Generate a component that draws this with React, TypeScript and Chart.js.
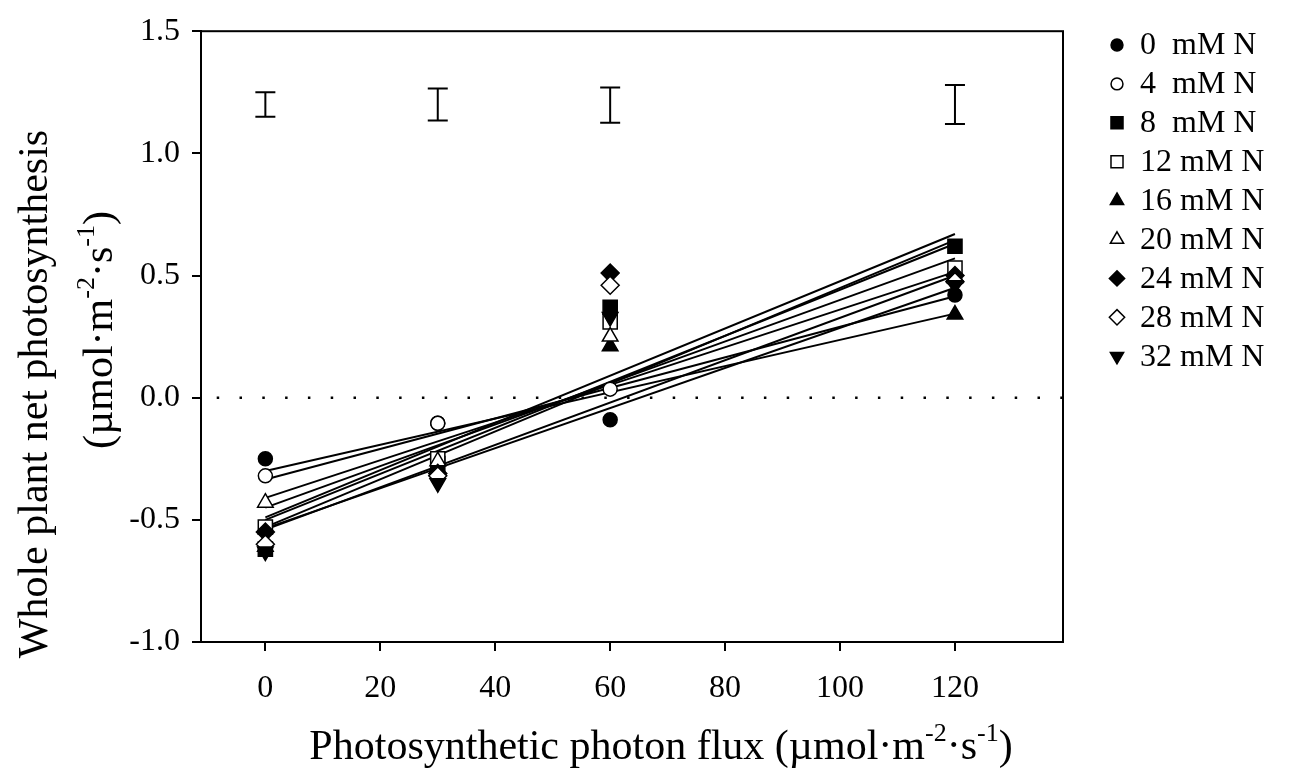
import React, { useEffect, useRef } from "react";
import { Chart, registerables } from "chart.js";
Chart.register(...registerables);

// ---------- data ----------
const fluxLevels = [0, 30, 60, 120];
const seriesLabels = ["0  mM N", "4  mM N", "8  mM N", "12 mM N", "16 mM N", "20 mM N", "24 mM N", "28 mM N", "32 mM N"];
const n0 = [-0.25, -0.105, -0.09, 0.42];
const n4 = [-0.32, -0.105, 0.035, 0.48];
const n8 = [-0.62, -0.27, 0.37, 0.62];
const n12 = [-0.53, -0.25, 0.31, 0.53];
const n16 = [-0.61, -0.29, 0.21, 0.34];
const n20 = [-0.43, -0.26, 0.25, 0.49];
const n24 = [-0.55, -0.31, 0.51, 0.5];
const n28 = [-0.6, -0.32, 0.46, 0.475];
const n32 = [-0.63, -0.35, 0.33, 0.46];
const seriesValues = [n0, n4, n8, n12, n16, n20, n24, n28, n32];

// fitted regression lines: value at flux 0 and at flux 120
const fitAt0 = [-0.3, -0.335, -0.41, -0.45, -0.49, -0.5, -0.53, -0.535, -0.54];
const fitAt120 = [0.344, 0.415, 0.515, 0.57, 0.67, 0.63, 0.645, 0.45, 0.5];
const fitX = [0, 120];

// error bars drawn above the data
const errX = [0, 30, 60, 120];
const errLow = [1.15, 1.135, 1.125, 1.12];
const errHigh = [1.25, 1.265, 1.27, 1.28];

const xTicks = [0, 20, 40, 60, 80, 100, 120];
const xMin = -11.2;
const xMax = 138.8;
const yMin = -1.0;
const yMax = 1.5;

// ---------- marker styles ----------
const markerStyle = ["circle", "circle", "rect", "rect", "triangle", "triangle", "rectRot", "rectRot", "triangle"];
const markerFilled = [true, false, true, false, true, false, true, false, true];
const markerRotation = [0, 0, 0, 0, 0, 0, 0, 0, 180];
const markerRadius: Record<string, number> = { circle: 7, rect: 10, triangle: 9, rectRot: 9 };

const FONT = "'Liberation Serif', 'Times New Roman', serif";

type Part = { t: string; sup?: boolean };

function drawRich(ctx: CanvasRenderingContext2D, parts: Part[], cx: number, cy: number, size: number) {
  const supSize = Math.round(size * 0.62);
  let total = 0;
  for (const p of parts) {
    ctx.font = `${p.sup ? supSize : size}px ${FONT}`;
    total += ctx.measureText(p.t).width;
  }
  let x = cx - total / 2;
  ctx.textBaseline = "alphabetic";
  ctx.textAlign = "left";
  const base = cy + size * 0.33;
  for (const p of parts) {
    ctx.font = `${p.sup ? supSize : size}px ${FONT}`;
    ctx.fillText(p.t, x, p.sup ? base - size * 0.42 : base);
    x += ctx.measureText(p.t).width;
  }
}

const unitParts: Part[] = [
  { t: "(\u00b5mol\u00b7m" },
  { t: "-2", sup: true },
  { t: "\u00b7s" },
  { t: "-1", sup: true },
  { t: ")" },
];

function drawMarker(ctx: CanvasRenderingContext2D, style: string, radius: number, rotation: number, x: number, y: number) {
  const rad = (rotation * Math.PI) / 180;
  ctx.beginPath();
  if (style === "circle") {
    ctx.arc(x, y, radius, 0, Math.PI * 2);
  } else if (style === "rect") {
    const s = Math.SQRT1_2 * radius;
    ctx.rect(x - s, y - s, 2 * s, 2 * s);
  } else if (style === "rectRot") {
    ctx.moveTo(x, y - radius);
    ctx.lineTo(x + radius, y);
    ctx.lineTo(x, y + radius);
    ctx.lineTo(x - radius, y);
  } else if (style === "triangle") {
    let a = rad;
    ctx.moveTo(x + Math.sin(a) * radius, y - Math.cos(a) * radius);
    a += (2 * Math.PI) / 3;
    ctx.lineTo(x + Math.sin(a) * radius, y - Math.cos(a) * radius);
    a += (2 * Math.PI) / 3;
    ctx.lineTo(x + Math.sin(a) * radius, y - Math.cos(a) * radius);
  }
  ctx.closePath();
  ctx.fill();
  ctx.stroke();
}

const decorPlugin = {
  id: "decor",
  afterDatasetsDraw(chart: any) {
    const { ctx, chartArea, scales } = chart;
    const xs = scales.x;
    const ys = scales.y;
    ctx.save();
    ctx.strokeStyle = "#000";
    ctx.lineWidth = 2;
    for (let i = 0; i < errX.length; i++) {
      const px = xs.getPixelForValue(errX[i]);
      const top = ys.getPixelForValue(errHigh[i]);
      const bot = ys.getPixelForValue(errLow[i]);
      ctx.beginPath();
      ctx.moveTo(px, top);
      ctx.lineTo(px, bot);
      ctx.moveTo(px - 10, top);
      ctx.lineTo(px + 10, top);
      ctx.moveTo(px - 10, bot);
      ctx.lineTo(px + 10, bot);
      ctx.stroke();
    }
    ctx.lineWidth = 2;
    ctx.strokeRect(chartArea.left, chartArea.top, chartArea.right - chartArea.left, chartArea.bottom - chartArea.top);
    ctx.restore();
  },
  afterDraw(chart: any) {
    const { ctx } = chart;
    ctx.save();
    ctx.fillStyle = "#000";
    // x title
    drawRich(ctx, [{ t: "Photosynthetic photon flux " }, ...unitParts], 661, 745, 42);
    // y title (two lines)
    ctx.save();
    ctx.translate(33, 394);
    ctx.rotate(-Math.PI / 2);
    drawRich(ctx, [{ t: "Whole plant net photosynthesis" }], 0, 0, 42);
    ctx.restore();
    ctx.save();
    ctx.translate(98, 330);
    ctx.rotate(-Math.PI / 2);
    drawRich(ctx, unitParts, 0, 0, 42);
    ctx.restore();

    // legend
    const lx = 1117;
    const tx = 1140;
    const ly0 = 45;
    const step = 38.9;
    for (let i = 0; i < seriesLabels.length; i++) {
      const y = ly0 + i * step;
      ctx.save();
      ctx.strokeStyle = "#000";
      ctx.fillStyle = markerFilled[i] ? "#000" : "#fff";
      ctx.lineWidth = 1.5;
      const st = markerStyle[i];
      drawMarker(ctx, st, markerRadius[st] * 0.85, markerRotation[i], lx, y);
      ctx.restore();
      ctx.fillStyle = "#000";
      ctx.font = `32px ${FONT}`;
      ctx.textAlign = "left";
      ctx.textBaseline = "middle";
      ctx.fillText(seriesLabels[i], tx, y + 1);
    }
    ctx.restore();
  },
};

export default function App() {
  const ref = useRef<HTMLCanvasElement>(null);
  useEffect(() => {
    document.body.style.margin = "0";
    const canvas = ref.current!;
    const datasets: any[] = [];
    seriesValues.forEach((vals, i) => {
      const st = markerStyle[i];
      datasets.push({
        type: "scatter",
        label: seriesLabels[i],
        data: fluxLevels.map((x, k) => ({ x, y: vals[k] })),
        pointStyle: st,
        pointRotation: markerRotation[i],
        pointRadius: markerRadius[st],
        pointBackgroundColor: markerFilled[i] ? "#000" : "#fff",
        pointBorderColor: "#000",
        pointBorderWidth: 1.5,
        showLine: false,
        order: 1 - i * 0.01,
      });
    });
    fitAt0.forEach((v0, i) => {
      datasets.push({
        type: "line",
        label: "fit " + seriesLabels[i],
        data: [
          { x: fitX[0], y: v0 },
          { x: fitX[1], y: fitAt120[i] },
        ],
        borderColor: "#000",
        borderWidth: 2,
        pointRadius: 0,
        fill: false,
        order: 2,
      });
    });
    datasets.push({
      type: "line",
      label: "zero",
      data: [
        { x: xMin, y: 0 },
        { x: xMax, y: 0 },
      ],
      borderColor: "#000",
      borderWidth: 2.5,
      borderDash: [2.5, 20.3],
      borderDashOffset: 7.1,
      pointRadius: 0,
      fill: false,
      order: 3,
    });

    const chart = new Chart(canvas, {
      type: "scatter",
      data: { datasets },
      options: {
        responsive: false,
        animation: false,
        devicePixelRatio: 1,
        layout: { padding: { left: 0, right: 232, top: 23, bottom: 0 } },
        plugins: { legend: { display: false }, tooltip: { enabled: false } },
        scales: {
          x: {
            type: "linear",
            min: xMin,
            max: xMax,
            afterBuildTicks: (axis: any) => {
              axis.ticks = xTicks.map((v) => ({ value: v }));
            },
            afterFit: (scale: any) => {
              scale.height = 133;
            },
            grid: { display: true, drawOnChartArea: false, drawTicks: true, tickLength: 9, color: "#000", lineWidth: 2 },
            border: { display: true, color: "#000", width: 2 },
            ticks: {
              color: "#000",
              font: { family: FONT, size: 32 },
              padding: 18,
              maxRotation: 0,
              autoSkip: false,
              callback: (v: any) => String(v),
            },
          },
          y: {
            type: "linear",
            min: yMin,
            max: yMax,
            afterFit: (scale: any) => {
              scale.width = 201;
            },
            grid: { display: true, drawOnChartArea: false, drawTicks: true, tickLength: 9, color: "#000", lineWidth: 2 },
            border: { display: true, color: "#000", width: 2 },
            ticks: {
              stepSize: 0.5,
              color: "#000",
              font: { family: FONT, size: 32 },
              padding: 12,
              callback: (v: any) => Number(v).toFixed(1),
            },
          },
        },
      },
      plugins: [decorPlugin],
    } as any);
    return () => chart.destroy();
  }, []);
  return <canvas ref={ref} width={1295} height={775} style={{ display: "block" }} />;
}
